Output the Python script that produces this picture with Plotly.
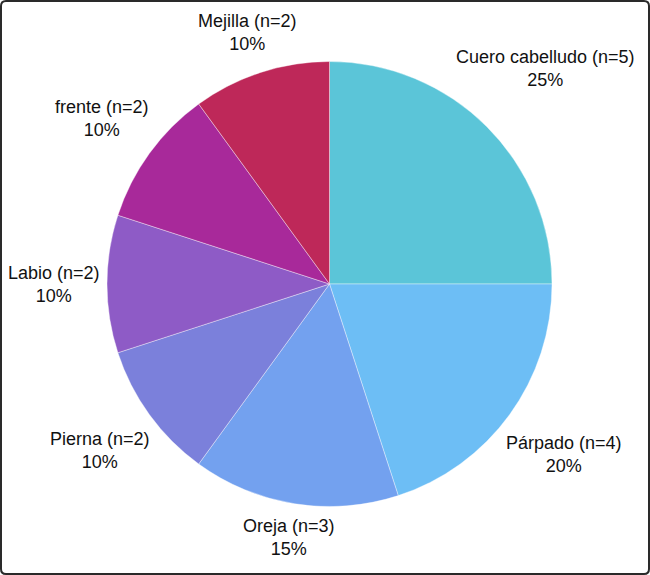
import math
import plotly.graph_objects as go

regions = ["Cuero cabelludo", "Párpado", "Oreja", "Pierna", "Labio", "frente", "Mejilla"]
counts = [5, 4, 3, 2, 2, 2, 2]
colors = ["#5BC5D8", "#6DBEF5", "#73A1EF", "#7B80DB", "#8E5BC6", "#A8299A", "#BE2859"]

W, H = 650, 575
CX, CY, R = 329.5, 284.0, 222.5   # pie centre / radius in pixels
FONT_SIZE = 18
FONT = "Liberation Sans, Arial, Helvetica, sans-serif"

labels = [f"{r} (n={c})" for r, c in zip(regions, counts)]
total = sum(counts)
pcts = [c / total for c in counts]

fig = go.Figure(go.Pie(
    labels=labels,
    values=counts,
    sort=False,
    direction="clockwise",
    rotation=0,
    marker=dict(colors=colors, line=dict(color="rgba(255,255,255,0.55)", width=0.7)),
    textinfo="none",
    hoverinfo="label+percent",
    showlegend=False,
    domain=dict(x=[(CX - R) / W, (CX + R) / W],
                y=[(H - CY - R) / H, (H - CY + R) / H]),
))

# approximate Arial advance widths (per 1000 em) to size the label boxes
AW = {" ": 278, "%": 889, "(": 333, ")": 333, "=": 584, "C": 722, "L": 556, "M": 833,
      "O": 778, "P": 667, "a": 556, "b": 556, "c": 500, "d": 556, "e": 556, "f": 278,
      "i": 222, "j": 222, "l": 222, "n": 556, "o": 556, "p": 556, "r": 333, "t": 278,
      "u": 556, "á": 556}
for d in "0123456789":
    AW[d] = 556


def text_w(s):
    return sum(AW.get(ch, 556) for ch in s) * FONT_SIZE / 1000.0


GAP_R = R + 7.5
annotations = []
cum = 0.0
for lab, p in zip(labels, pcts):
    mid = (cum + p / 2) * 2 * math.pi
    cum += p
    sx, sy = math.sin(mid), -math.cos(mid)
    pct_txt = f"{round(p * 100)}%"
    hw = max(text_w(lab), text_w(pct_txt)) / 2
    hh = 1.3 * FONT_SIZE
    t = 0.0
    while True:
        ox = max(0.0, abs(t * sx) - hw)
        oy = max(0.0, abs(t * sy) - hh)
        if math.hypot(ox, oy) >= GAP_R:
            break
        t += 0.25
    px, py = CX + t * sx, CY + t * sy
    annotations.append(dict(
        x=px / W, y=1 - py / H, xref="paper", yref="paper",
        text=f"{lab}<br>{pct_txt}", showarrow=False,
        xanchor="center", yanchor="middle", align="center",
        font=dict(family=FONT, size=FONT_SIZE, color="#111111"),
    ))

rx, ry = 5 / W, 5 / H
x0, x1 = 1 / W, 1 - 1 / W
y0, y1 = 1 / H, 1 - 1 / H
border = (f"M {x0+rx},{y0} L {x1-rx},{y0} Q {x1},{y0} {x1},{y0+ry} "
          f"L {x1},{y1-ry} Q {x1},{y1} {x1-rx},{y1} L {x0+rx},{y1} "
          f"Q {x0},{y1} {x0},{y1-ry} L {x0},{y0+ry} Q {x0},{y0} {x0+rx},{y0} Z")

fig.update_layout(
    width=W, height=H,
    margin=dict(l=0, r=0, t=0, b=0),
    paper_bgcolor="white",
    plot_bgcolor="white",
    annotations=annotations,
    shapes=[dict(type="path", path=border, xref="paper", yref="paper",
                 line=dict(color="#2a2a2a", width=2), fillcolor="rgba(0,0,0,0)", layer="above")],
)

fig.write_html("out.html",
               config={"displayModeBar": False},
               post_script="document.body.style.margin='0px';document.body.style.padding='0px';")
